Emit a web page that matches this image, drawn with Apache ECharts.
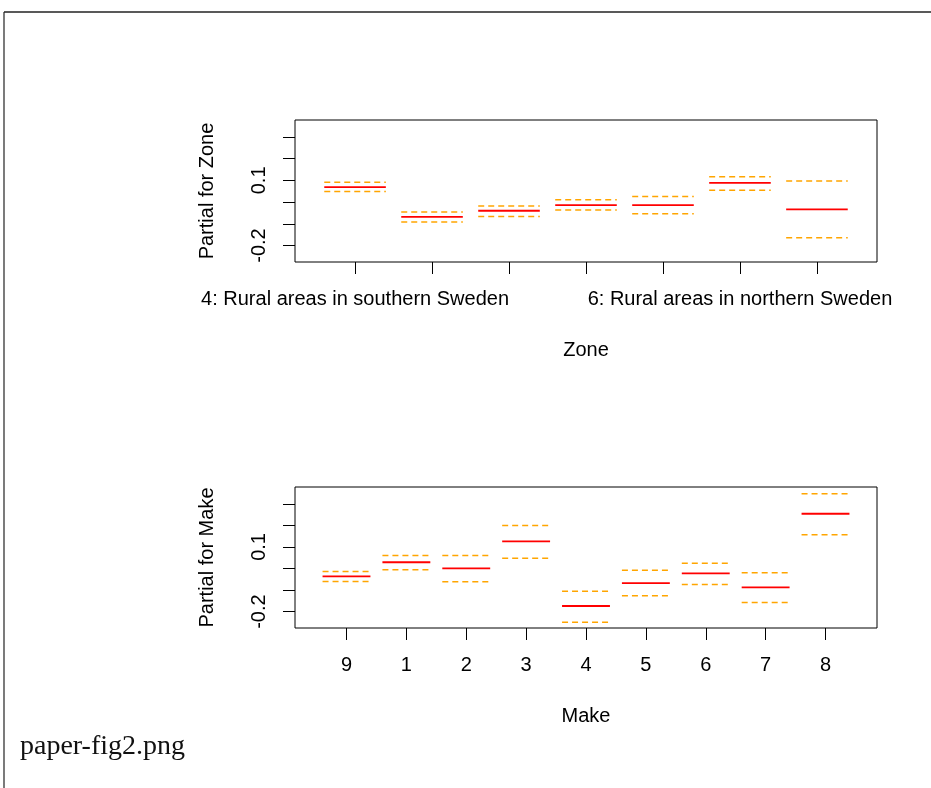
<!DOCTYPE html>
<html>
<head>
<meta charset="utf-8">
<script src="https://cdn.jsdelivr.net/npm/echarts@6/dist/echarts.min.js"></script>
<style>html,body{margin:0;padding:0;background:#fff}#c{width:931px;height:788px}</style>
</head>
<body>
<div id="c"></div>
<script>
// ---- Zone term ----
const zoneCategories = [
  "4: Rural areas in southern Sweden",
  "1: Central parts of the three largest cities",
  "2: Suburbs and middle-sized towns",
  "3: Lesser towns",
  "5: Northern towns",
  "6: Rural areas in northern Sweden",
  "7: Gotland"
];
const zoneFit   = [0.069, -0.068, -0.040, -0.014, -0.014, 0.088, -0.034];
const zoneUpper = [0.091, -0.046, -0.018,  0.011,  0.026, 0.117,  0.097];
const zoneLower = [0.049, -0.092, -0.066, -0.037, -0.054, 0.054, -0.164];
const zoneShownLabels = [1, 6];   // positions whose labels R could fit

// ---- Make term ----
const makeCategories = ["9", "1", "2", "3", "4", "5", "6", "7", "8"];
const makeFit   = [-0.037, 0.029, 0.001, 0.126, -0.174, -0.068, -0.023, -0.088, 0.254];
const makeUpper = [-0.014, 0.060, 0.060, 0.200, -0.105, -0.008,  0.024, -0.020, 0.347];
const makeLower = [-0.060,-0.006,-0.061, 0.048, -0.249, -0.126, -0.074, -0.158, 0.157];

// ---- shared y axis ----
const yTicks = [-0.2, -0.1, 0.0, 0.1, 0.2, 0.3];
const yTickLabels = [-0.2, 0.1];
const yMin = -0.276, yMax = 0.378;

const FONT = "'Liberation Sans', Arial, sans-serif";
const FS = 20;

function seg(color, dash, width) {
  return function (params, api) {
    const x = api.value(0), y = api.value(1);
    const p1 = api.coord([x - 0.4, y]);
    const p2 = api.coord([x + 0.4, y]);
    return {
      type: 'line',
      shape: { x1: p1[0], y1: p1[1], x2: p2[0], y2: p2[1] },
      style: { stroke: color, lineWidth: width, lineDash: dash }
    };
  };
}
function toData(arr) { return arr.map((v, i) => [i + 1, v]); }
function positions(n) { return Array.from({length: n}, (_, i) => i + 1); }

function xAxisFor(gridIndex, cats, shown, name) {
  const n = cats.length;
  const ext = 0.04 * n;
  return {
    type: 'value', gridIndex: gridIndex, position: 'bottom',
    min: 0.5 - ext, max: n + 0.5 + ext,
    name: name, nameLocation: 'middle', nameGap: 78,
    nameTextStyle: { fontFamily: FONT, fontSize: FS, color: '#000' },
    axisLine: { show: false, onZero: false },
    splitLine: { show: false },
    axisTick: { show: true, inside: false, length: 12, customValues: positions(n),
                lineStyle: { color: '#000', width: 1 } },
    axisLabel: { show: true, margin: 27, customValues: shown,
                 fontFamily: FONT, fontSize: FS, color: '#000',
                 formatter: function (v) { return cats[Math.round(v) - 1]; } }
  };
}
function yAxisFor(gridIndex, name) {
  return {
    type: 'value', gridIndex: gridIndex, position: 'left',
    min: yMin, max: yMax,
    name: name, nameLocation: 'middle', nameGap: 78, nameRotate: 90,
    nameTextStyle: { fontFamily: FONT, fontSize: FS, color: '#000' },
    axisLine: { show: false, onZero: false },
    splitLine: { show: false },
    axisTick: { show: true, inside: false, length: 12, customValues: yTicks,
                lineStyle: { color: '#000', width: 1 } },
    axisLabel: { show: true, rotate: 90, margin: 26, customValues: yTickLabels,
                 fontFamily: FONT, fontSize: FS, color: '#000',
                 formatter: function (v) { return (Math.round(v * 10) / 10).toFixed(1); } }
  };
}
function termSeries(idx, fit, up, lo) {
  return [
    { type: 'custom', xAxisIndex: idx, yAxisIndex: idx, data: toData(up),
      renderItem: seg('#FFA500', [6, 4], 1.5), silent: true },
    { type: 'custom', xAxisIndex: idx, yAxisIndex: idx, data: toData(lo),
      renderItem: seg('#FFA500', [6, 4], 1.5), silent: true },
    { type: 'custom', xAxisIndex: idx, yAxisIndex: idx, data: toData(fit),
      renderItem: seg('#FF0000', null, 1.8), silent: true }
  ];
}

const chart = echarts.init(document.getElementById('c'), null, { renderer: 'canvas' });
chart.setOption({
  animation: false,
  backgroundColor: '#fff',
  grid: [
    { left: 295, top: 120, width: 582, height: 142, show: true, borderColor: '#000', borderWidth: 1, backgroundColor: 'transparent' },
    { left: 295, top: 487, width: 582, height: 141, show: true, borderColor: '#000', borderWidth: 1, backgroundColor: 'transparent' }
  ],
  xAxis: [
    xAxisFor(0, zoneCategories, zoneShownLabels, 'Zone'),
    xAxisFor(1, makeCategories, positions(makeCategories.length), 'Make')
  ],
  yAxis: [
    yAxisFor(0, 'Partial for Zone'),
    yAxisFor(1, 'Partial for Make')
  ],
  series: [].concat(
    termSeries(0, zoneFit, zoneUpper, zoneLower),
    termSeries(1, makeFit, makeUpper, makeLower)
  ),
  graphic: [
    { type: 'line', shape: { x1: 4, y1: 12, x2: 931, y2: 12 }, style: { stroke: '#222', lineWidth: 1.5 } },
    { type: 'line', shape: { x1: 4, y1: 12, x2: 4, y2: 788 }, style: { stroke: '#222', lineWidth: 1.2 } },
    { type: 'text', left: 20, top: 733,
      style: { text: 'paper-fig2.png', font: "28px 'Liberation Serif', 'DejaVu Serif', serif", fill: '#111' } }
  ]
});
</script>
</body>
</html>
